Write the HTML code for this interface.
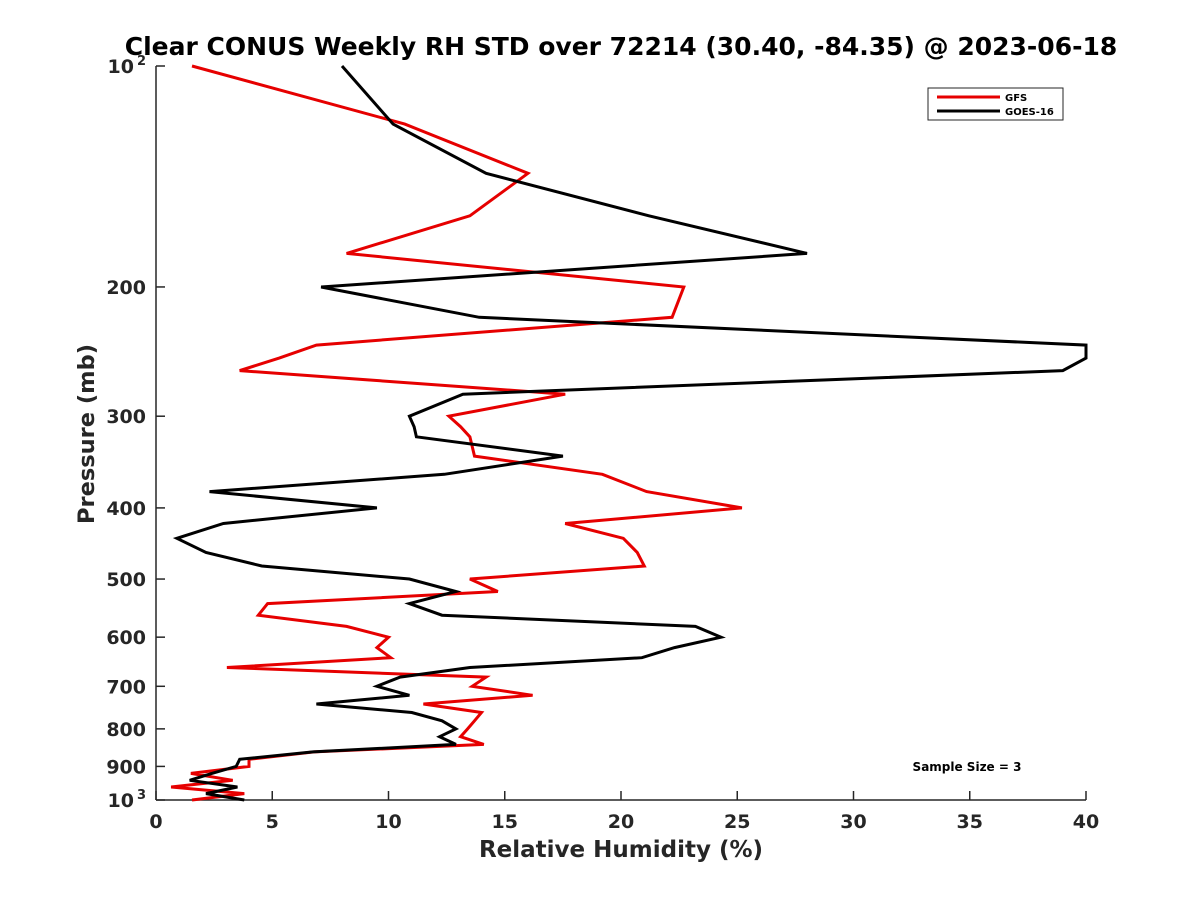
<!DOCTYPE html>
<html><head><meta charset="utf-8"><style>
html,body{margin:0;padding:0;background:#fff;}
svg{display:block;font-family:"DejaVu Sans","Liberation Sans",sans-serif;}
</style></head><body>
<svg id="chart" width="1200" height="900">
<text x="621" y="55" text-anchor="middle" font-size="25" font-weight="bold" fill="#000">Clear CONUS Weekly RH STD over 72214 (30.40, -84.35) @ 2023-06-18</text>
<g id="axes"></g>
<g id="series"></g>
<g>
<rect x="928" y="88" width="135" height="32" fill="#fff" stroke="#262626" stroke-width="1"/>
<line x1="937" y1="97" x2="1000" y2="97" stroke="#e60000" stroke-width="3"/>
<text x="1005" y="101" font-size="10" font-weight="bold">GFS</text>
<line x1="937" y1="111" x2="1000" y2="111" stroke="#000" stroke-width="3"/>
<text x="1005" y="115" font-size="10" font-weight="bold">GOES-16</text>
</g>
<text x="967" y="771" text-anchor="middle" font-size="12" font-weight="bold">Sample Size = 3</text>
<text x="621" y="857" text-anchor="middle" font-size="23" font-weight="bold" fill="#262626">Relative Humidity (%)</text>
<text transform="translate(94,434) rotate(-90)" text-anchor="middle" font-size="22.5" font-weight="bold" fill="#262626">Pressure (mb)</text>
</svg>
<script>
const pressure=[100,120,140,160,180,200,220,240,250,260,280,300,310,320,340,360,380,400,420,440,460,480,500,520,540,560,580,600,620,640,660,680,700,720,740,760,780,800,820,840,860,880,900,920,940,960,980,1000];
const gfs=[1.55,10.7,16.0,13.5,8.2,22.7,22.2,6.9,5.3,3.6,17.6,12.6,13.1,13.5,13.7,19.2,21.1,25.2,17.6,20.1,20.7,21.0,13.5,14.7,4.8,4.4,8.2,10.0,9.5,10.1,3.05,14.2,13.6,16.2,11.5,14.0,13.7,13.4,13.1,14.1,6.8,4.0,4.0,1.5,3.3,0.65,3.8,1.55];
const goes=[8.0,10.2,14.2,21.2,28.0,7.1,13.9,40,40,39.0,13.2,10.9,11.1,11.2,17.5,12.4,2.3,9.5,2.9,0.9,2.15,4.55,10.9,12.9,10.9,12.3,23.2,24.3,22.3,20.9,13.5,10.5,9.5,10.9,6.9,11.0,12.3,12.9,12.2,12.9,6.75,3.6,3.45,2.4,1.45,3.5,2.15,3.8];
const xTicks=[0,5,10,15,20,25,30,35,40];
const yTicks=[100,200,300,400,500,600,700,800,900,1000];
const yTickLabels=["10|2","200","300","400","500","600","700","800","900","10|3"];
const X0=156,X1=1086,Y0=66,Y1=800;
function xs(v){return X0+(v-0)/40*(X1-X0);}
function ys(p){return Y0+Math.log10(p/100)*(Y1-Y0);}
const NS="http://www.w3.org/2000/svg";
const ax=document.getElementById('axes');
function mk(t,a,parent){const e=document.createElementNS(NS,t);for(const k in a)e.setAttribute(k,a[k]);parent.appendChild(e);return e;}
let l=mk('line',{x1:X0,y1:Y0,x2:X0,y2:Y1,stroke:'#262626','stroke-width':1.5},ax);


l=mk('line',{x1:X0,y1:Y1,x2:X1,y2:Y1,stroke:'#262626','stroke-width':1.5},ax);


xTicks.forEach(v=>{
 mk('line',{x1:xs(v),y1:Y1,x2:xs(v),y2:Y1-9,stroke:'#262626','stroke-width':1.5},ax);
 const t=mk('text',{x:xs(v),y:Y1+28,'text-anchor':'middle','font-size':19,'font-weight':'bold',fill:'#262626'},ax);
 t.textContent=v;
 
 
});
yTicks.forEach((p,i)=>{
 mk('line',{x1:X0,y1:ys(p),x2:X0+9,y2:ys(p),stroke:'#262626','stroke-width':1.5},ax);
 const lab=yTickLabels[i];
 if(lab.indexOf('|')>=0){
  const parts=lab.split('|');
  const t=mk('text',{x:X0-22,y:ys(p)+7,'text-anchor':'end','font-size':19,'font-weight':'bold',fill:'#262626'},ax);
  t.textContent=parts[0];
  
  
  const s=mk('text',{x:X0-10,y:ys(p)-1,'text-anchor':'end','font-size':13,'font-weight':'bold',fill:'#262626'},ax);
  s.textContent=parts[1];
  
  
 } else {
  const t=mk('text',{x:X0-10,y:ys(p)+7,'text-anchor':'end','font-size':19,'font-weight':'bold',fill:'#262626'},ax);
  t.textContent=lab;
  
  
 }
});
const sg=document.getElementById('series');
function line(vals,color,name){
 const pts=vals.map((v,i)=>xs(Math.min(v,40)).toFixed(1)+','+ys(pressure[i]).toFixed(1)).join(' ');
 const e=mk('polyline',{points:pts,fill:'none',stroke:color,'stroke-width':3,'stroke-linejoin':'miter'},sg);
 
 
}
line(gfs,'#e60000','gfs-line');
line(goes,'#000000','goes16-line');
</script>
</body></html>
